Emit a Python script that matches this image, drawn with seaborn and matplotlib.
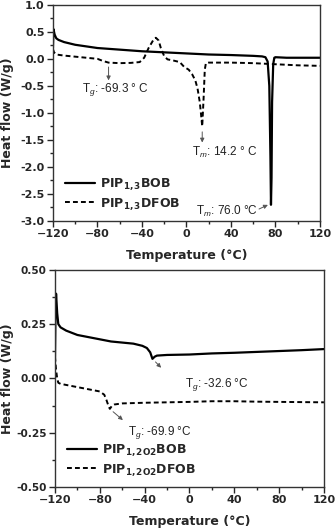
import numpy as np
import pandas as pd
import matplotlib
matplotlib.use("Agg")
import matplotlib.pyplot as plt
from matplotlib.ticker import MultipleLocator, FormatStrFormatter
import seaborn as sns

# ---------------- data ----------------
# Top panel: PIP1,3BOB (solid)
t_bob13 = [-120, -119.5, -118.5, -117, -115, -110, -100, -90, -80, -60, -40, -20, 0, 20, 40, 60,
           68, 71, 73, 74.5, 75.5, 76, 76.5, 77, 78, 79, 80, 90, 100, 120]
q_bob13 = [0.2, 0.55, 0.45, 0.38, 0.35, 0.31, 0.26, 0.23, 0.2, 0.17, 0.14, 0.12, 0.1, 0.08, 0.07, 0.055,
           0.045, 0.03, -0.05, -0.5, -1.8, -2.7, -2.2, -0.8, -0.1, 0.02, 0.03, 0.02, 0.02, 0.02]
# Top panel: PIP1,3DFOB (dashed)
t_dfob13 = [-120, -119, -117, -110, -100, -90, -80, -75, -70, -60, -50, -42, -38, -34, -30, -27.5, -25,
            -23, -20, -17, -12, -6, -2, 2, 5, 8, 10, 12, 13, 14.2, 15.5, 16.5, 17.5, 20, 40, 60, 80, 100, 120]
q_dfob13 = [0.18, 0.12, 0.08, 0.06, 0.04, 0.02, 0.0, -0.04, -0.07, -0.08, -0.075, -0.06, 0.02, 0.2, 0.34,
            0.39, 0.34, 0.2, 0.05, -0.01, -0.03, -0.06, -0.15, -0.2, -0.28, -0.4, -0.55, -0.8, -1.0, -1.25,
            -0.7, -0.2, -0.08, -0.07, -0.07, -0.08, -0.1, -0.12, -0.13]
# Bottom panel: PIP1,2O2BOB (solid)
t_bob12 = [-120, -119.5, -119, -118, -117, -115, -110, -100, -90, -80, -70, -60, -50, -42, -38, -35,
           -33, -31, -29, -20, 0, 20, 40, 60, 80, 100, 120]
q_bob12 = [0.08, 0.3, 0.39, 0.3, 0.25, 0.235, 0.22, 0.2, 0.19, 0.18, 0.17, 0.165, 0.16, 0.15, 0.14, 0.12,
           0.09, 0.1, 0.105, 0.108, 0.11, 0.115, 0.118, 0.122, 0.126, 0.13, 0.135]
# Bottom panel: PIP1,2O2DFOB (dashed)
t_dfob12 = [-120, -119, -118, -117, -115, -110, -100, -90, -80, -76, -74, -72, -71, -69, -67, -60, -40,
            -20, 0, 20, 40, 60, 80, 100, 120]
q_dfob12 = [0.1, 0.04, 0.0, -0.02, -0.025, -0.03, -0.04, -0.05, -0.06, -0.075, -0.1, -0.13, -0.14, -0.125,
            -0.12, -0.115, -0.112, -0.11, -0.108, -0.105, -0.105, -0.107, -0.108, -0.109, -0.11]

labels_top = [r"PIP$_\mathbf{1,3}$BOB", r"PIP$_\mathbf{1,3}$DFOB"]
labels_bot = [r"PIP$_\mathbf{1,2O2}$BOB", r"PIP$_\mathbf{1,2O2}$DFOB"]

# ---------------- style ----------------
sns.set_style("ticks")
plt.rcParams["font.family"] = ["DejaVu Sans"]
plt.rcParams["mathtext.fontset"] = "custom"
plt.rcParams["mathtext.rm"] = "DejaVu Sans:bold"
plt.rcParams["mathtext.bf"] = "DejaVu Sans:bold"
plt.rcParams["mathtext.it"] = "Liberation Sans:italic"

fig = plt.figure(figsize=(3.35, 5.30), dpi=100)
ax1 = fig.add_axes([0.158, 0.583, 0.797, 0.408])
ax2 = fig.add_axes([0.164, 0.081, 0.803, 0.410])

def draw(ax, t1, q1, t2, q2, labels):
    d1 = pd.DataFrame({"T": t1, "Q": q1})
    d2 = pd.DataFrame({"T": t2, "Q": q2})
    sns.lineplot(data=d1, x="T", y="Q", ax=ax, color="black", lw=1.6, label=labels[0],
                 estimator=None, sort=False)
    sns.lineplot(data=d2, x="T", y="Q", ax=ax, color="black", lw=1.4, label=labels[1],
                 estimator=None, sort=False, dashes=False)
    ax.lines[1].set_dashes((2.5, 1.6))

draw(ax1, t_bob13, q_bob13, t_dfob13, q_dfob13, labels_top)
draw(ax2, t_bob12, q_bob12, t_dfob12, q_dfob12, labels_bot)

for ax in (ax1, ax2):
    ax.set_xlim(-120, 120)
    ax.xaxis.set_major_locator(MultipleLocator(40))
    ax.xaxis.set_minor_locator(MultipleLocator(20))
    ax.tick_params(which="major", direction="out", length=4, width=1, labelsize=8, pad=2)
    ax.tick_params(which="minor", direction="out", length=2.5, width=1)
    for s in ax.spines.values():
        s.set_linewidth(1.0)
        s.set_color("#333333")
    ax.set_xlabel("Temperature (\u00b0C)", fontsize=9, fontweight="bold", labelpad=7)
    ax.set_ylabel("Heat flow (W/g)", fontsize=9, fontweight="bold")
    leg = ax.legend(loc="lower left", frameon=False, fontsize=9, handlelength=2.4,
                    borderaxespad=0.0, labelspacing=0.3, handletextpad=0.4,
                    bbox_to_anchor=(0.025, 0.02))
    for txt in leg.get_texts():
        txt.set_fontweight("bold")
    for l in leg.get_lines():
        l.set_color("black")
    leg.get_lines()[1].set_dashes((2.5, 1.6))

ax1.yaxis.set_label_coords(-0.146, 0.5)
ax2.yaxis.set_label_coords(-0.152, 0.5)

ax1.set_ylim(-3.0, 1.0)
ax1.yaxis.set_major_locator(MultipleLocator(0.5))
ax1.yaxis.set_minor_locator(MultipleLocator(0.25))
ax1.yaxis.set_major_formatter(FormatStrFormatter("%.1f"))
ax2.set_ylim(-0.5, 0.5)
ax2.yaxis.set_major_locator(MultipleLocator(0.25))
ax2.yaxis.set_minor_locator(MultipleLocator(0.125))
ax2.yaxis.set_major_formatter(FormatStrFormatter("%.2f"))
for ax in (ax1, ax2):
    for lab in ax.get_xticklabels() + ax.get_yticklabels():
        lab.set_fontweight("bold")
ax2.tick_params(axis="y", labelsize=7.6)

ann = dict(fontsize=8.5, family="Liberation Sans", color="#222222")
arr = dict(arrowstyle="-|>", color="#555555", lw=0.7, mutation_scale=6)

ax1.annotate("", xy=(-70, -0.45), xytext=(-70, -0.1), arrowprops=arr)
ax1.text(-94, -0.57, r"T$_{g}$: -69.3 ° C", va="center", ha="left", **ann)
ax1.annotate("", xy=(14.2, -1.6), xytext=(14.2, -1.3), arrowprops=arr)
ax1.text(5, -1.74, r"T$_{m}$: 14.2 ° C", va="center", ha="left", **ann)
ax1.annotate("", xy=(75.5, -2.68), xytext=(63, -2.8), arrowprops=arr)
ax1.text(9, -2.82, r"T$_{m}$: 76.0 °C", va="center", ha="left", **ann)

ax2.annotate("", xy=(-23.5, 0.04), xytext=(-32, 0.085), arrowprops=arr)
ax2.text(-4, -0.03, r"T$_{g}$: -32.6 °C", va="center", ha="left", **ann)
ax2.annotate("", xy=(-57.5, -0.2), xytext=(-70, -0.145), arrowprops=arr)
ax2.text(-55, -0.25, r"T$_{g}$: -69.9 °C", va="center", ha="left", **ann)

fig.savefig("out.png", dpi=100)
